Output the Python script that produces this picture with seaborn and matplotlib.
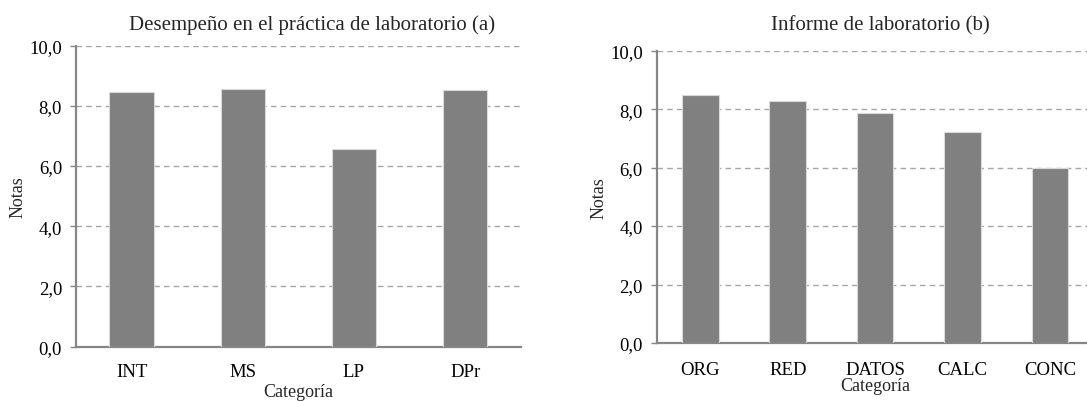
import matplotlib
matplotlib.use("Agg")
import matplotlib.pyplot as plt
import seaborn as sns
import pandas as pd
from matplotlib.ticker import FuncFormatter

# Scores by category
cats_a = ["INT", "MS", "LP", "DPr"]
vals_a = [8.46, 8.57, 6.58, 8.53]

cats_b = ["ORG", "RED", "DATOS", "CALC", "CONC"]
vals_b = [8.48, 8.27, 7.86, 7.22, 5.97]

title_a = "Desempeño en el práctica de laboratorio (a)"
title_b = "Informe de laboratorio (b)"
yticks = [0, 2, 4, 6, 8, 10]

sns.set_theme(style="white")
plt.rcParams["font.family"] = ["Liberation Serif", "DejaVu Serif"]

BAR = "#808080"
AXIS = "#868686"
GRID = "#a6a6a6"

fig = plt.figure(figsize=(10.87, 4.02), dpi=100)
ax_a = fig.add_axes([0.0699, 0.1351, 0.4091, 0.7488])
ax_b = fig.add_axes([0.6041, 0.1443, 0.4020, 0.7271])

comma = FuncFormatter(lambda v, _: f"{v:.1f}".replace(".", ","))


def draw(ax, cats, vals, title, width, title_x, title_pad, xpad, xlabelpad):
    df = pd.DataFrame({"Categoría": cats, "Notas": vals})
    sns.barplot(data=df, x="Categoría", y="Notas", color=BAR, saturation=1,
                width=width, edgecolor="#d9d9d9", linewidth=0.8, ax=ax, zorder=3)
    ax.set_ylim(0, 10)
    ax.set_xlim(-0.5, len(cats) - 0.5)
    ax.set_yticks(yticks)
    ax.yaxis.set_major_formatter(comma)
    ax.grid(axis="y", color=GRID, linestyle=(0, (4, 3)), linewidth=1.0, zorder=0)
    ax.set_axisbelow(True)
    for side in ("top", "right"):
        ax.spines[side].set_visible(False)
    for side in ("left", "bottom"):
        ax.spines[side].set_color(AXIS)
        ax.spines[side].set_linewidth(1.6)
    ax.tick_params(axis="y", which="major", length=4, width=1.0, color=AXIS,
                   direction="out", left=True, labelsize=13.5, pad=6, labelcolor="black")
    ax.tick_params(axis="x", length=0, labelsize=13.5, pad=xpad, labelcolor="black")
    ax.set_title(title, fontsize=15, x=title_x, pad=title_pad)
    ax.set_xlabel("Categoría", fontsize=13, labelpad=xlabelpad)
    ax.set_ylabel("Notas", fontsize=13, labelpad=2)


draw(ax_a, cats_a, vals_a, title_a, 0.40, 0.532, 12, 12, 2)
draw(ax_b, cats_b, vals_b, title_b, 0.42, 0.511, 15.5, 13, -1)

fig.savefig("out.png", dpi=100)
